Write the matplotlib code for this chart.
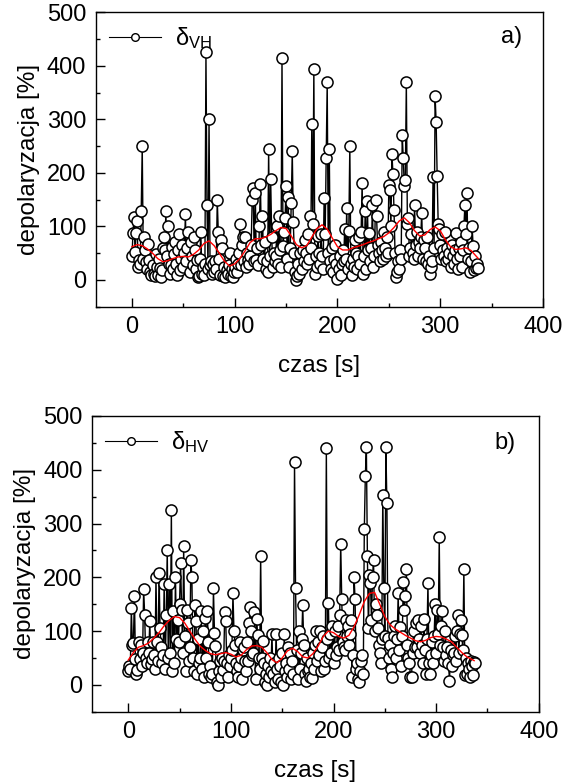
import numpy as np
import matplotlib
matplotlib.use('Agg')
import matplotlib.pyplot as plt
from matplotlib import rcParams
from matplotlib.lines import Line2D
from matplotlib.ticker import MultipleLocator

# Figure text specs
rcParams['font.family'] = ['Liberation Sans', 'DejaVu Sans']
rcParams['mathtext.fontset'] = 'custom'
rcParams['mathtext.rm'] = 'Liberation Sans'
rcParams['mathtext.it'] = 'Liberation Sans:italic'
rcParams['text.color'] = 'black'

# =======================================================================
# ============================ Data =====================================
# =======================================================================

# delta VH, one sample per second
delta_vh = [
    45, 87, 118, 52, 88, 110, 25, 38, 30, 128, 250, 40, 80, 55, 33, 20, 68, 38, 15, 10,
    28, 12, 8, 48, 25, 10, 40, 22, 5, 18, 60, 80, 55, 128, 45, 100, 30, 12, 28, 62,
    20, 48, 70, 30, 10, 55, 85, 18, 40, 65, 25, 50, 123, 35, 60, 90, 15, 70, 45, 28,
    80, 55, 20, 38, 5, 8, 40, 90, 12, 25, 10, 30, 425, 140, 20, 300, 28, 35, 12, 30,
    15, 35, 20, 150, 90, 40, 10, 75, 60, 8, 25, 5, 18, 12, 28, 50, 8, 20, 5, 15,
    25, 40, 15, 30, 50, 104, 28, 65, 80, 35, 80, 25, 50, 38, 30, 45, 65, 150, 172, 35,
    163, 38, 60, 28, 100, 180, 65, 120, 40, 70, 20, 35, 15, 245, 45, 188, 80, 25, 50, 35,
    45, 100, 30, 120, 55, 25, 415, 63, 90, 115, 175, 40, 155, 25, 60, 143, 240, 108, 50, 15,
    0, 8, 30, 12, 50, 20, 55, 35, 75, 50, 30, 85, 40, 120, 60, 292, 105, 395, 12, 45,
    25, 82, 50, 30, 85, 45, 20, 153, 85, 228, 370, 50, 245, 35, 20, 60, 15, 40, 65, 30,
    2, 20, 45, 10, 30, 55, 35, 95, 40, 135, 20, 92, 250, 30, 10, 40, 25, 75, 50, 20,
    45, 80, 30, 90, 182, 12, 45, 128, 20, 148, 55, 88, 35, 60, 140, 25, 45, 150, 120, 65,
    50, 35, 70, 55, 40, 90, 60, 45, 80, 50, 178, 168, 100, 235, 197, 130, 50, 5, 15, 35,
    20, 55, 40, 270, 228, 175, 187, 370, 105, 115, 45, 60, 85, 50, 40, 140, 65, 90, 45, 70,
    60, 80, 125, 40, 75, 60, 35, 80, 30, 45, 12, 25, 35, 193, 60, 343, 295, 194, 105, 95,
    65, 40, 85, 55, 45, 90, 35, 60, 40, 50, 25, 65, 45, 30, 55, 88, 40, 20, 60, 45,
    70, 25, 55, 100, 140, 85, 162, 40, 60, 15, 35, 100, 63, 18, 45, 22, 30, 22]

# Smoothed delta VH (red curve), read every 5 s
smooth_t_vh = [
    0, 5, 10, 15, 20, 25, 30, 35, 40, 45, 50, 55, 60, 65, 70, 75, 80, 85, 90, 95,
    100, 105, 110, 115, 120, 125, 130, 135, 140, 145, 150, 155, 160, 165, 170, 175,
    180, 185, 190, 195, 200, 205, 210, 215, 220, 225, 230, 235, 240, 245, 250, 255,
    260, 265, 270, 275, 280, 285, 290, 295, 300, 305, 310, 315, 320, 325, 330, 337]
smooth_vh = [
    62, 66, 64, 58, 50, 40, 34, 36, 40, 43, 44, 43, 48, 56, 68, 73, 64, 50, 35, 26,
    30, 40, 54, 70, 77, 77, 80, 85, 92, 98, 96, 82, 66, 60, 64, 80,
    96, 103, 95, 78, 62, 56, 56, 60, 63, 66, 70, 73, 77, 81, 88, 98,
    110, 116, 107, 92, 82, 84, 94, 99, 92, 75, 62, 57, 58, 60, 55, 40]

# delta HV, one sample per second
delta_hv = [
    25, 35, 30, 142, 75, 78, 165, 48, 20, 28, 80, 48, 75, 35, 60, 178, 130, 50, 40, 80,
    60, 118, 38, 48, 80, 55, 30, 200, 80, 45, 208, 105, 70, 40, 55, 188, 30, 130, 250, 50,
    188, 60, 325, 25, 137, 40, 200, 85, 120, 80, 150, 226, 140, 60, 258, 90, 25, 140, 115, 45,
    70, 233, 200, 50, 25, 148, 118, 20, 85, 40, 50, 138, 30, 100, 15, 125, 50, 138, 80, 20,
    35, 15, 20, 180, 97, 72, 5, 0, 25, 45, 15, 50, 28, 45, 135, 118, 40, 15, 55, 35,
    50, 65, 170, 100, 75, 40, 25, 15, 35, 80, 50, 10, 65, 70, 45, 25, 80, 45, 115, 145,
    100, 55, 60, 135, 10, 123, 92, 50, 30, 240, 50, 82, 40, 5, 20, 0, 35, 15, 50, 25,
    95, 20, 40, 5, 95, 30, 10, 50, 35, 5, 60, 0, 95, 25, 40, 15, 70, 30, 60, 10,
    45, 20, 415, 180, 65, 10, 100, 30, 60, 85, 148, 75, 20, 8, 50, 25, 30, 15, 40, 12,
    60, 30, 75, 100, 45, 80, 55, 100, 25, 70, 90, 30, 45, 440, 85, 152, 50, 95, 60, 110,
    40, 100, 55, 70, 110, 65, 130, 262, 160, 80, 70, 65, 120, 90, 110, 75, 95, 120, 15, 55,
    200, 160, 30, 40, 10, 5, 25, 45, 55, 20, 290, 388, 443, 240, 105, 205, 190, 120, 200, 233,
    100, 150, 130, 105, 75, 60, 40, 85, 353, 180, 90, 443, 338, 88, 50, 75, 30, 15, 60, 90,
    110, 50, 85, 170, 65, 108, 35, 90, 192, 140, 165, 215, 75, 50, 40, 15, 15, 60, 100, 70,
    115, 70, 120, 85, 60, 110, 75, 40, 123, 65, 20, 85, 190, 40, 20, 55, 80, 40, 90, 150,
    60, 140, 95, 275, 75, 110, 137, 70, 45, 100, 55, 70, 40, 8, 65, 35, 55, 60, 90, 45,
    100, 130, 60, 95, 120, 92, 65, 215, 18, 50, 20, 40, 30, 15, 45, 35, 18, 42, 40]

# Smoothed delta HV (red curve), read every 5 s
smooth_t_hv = smooth_t_vh
smooth_hv = [
    46, 60, 70, 73, 78, 87, 97, 110, 120, 127, 125, 115, 100, 85, 72, 64, 58, 56, 58, 60,
    57, 52, 55, 65, 72, 73, 70, 60, 47, 41, 50, 63, 68, 62, 52, 50,
    58, 72, 90, 100, 97, 90, 87, 92, 108, 130, 155, 170, 172, 150, 127, 112,
    104, 98, 92, 87, 82, 80, 83, 88, 90, 89, 85, 80, 70, 60, 52, 45]

panels = [
    (delta_vh, smooth_t_vh, smooth_vh, r'δ$_{\mathrm{VH}}$', 'a)'),
    (delta_hv, smooth_t_hv, smooth_hv, r'δ$_{\mathrm{HV}}$', 'b)')]

# =======================================================================
# ============================ Figure ===================================
# =======================================================================

fig = plt.figure(figsize=(5.63, 7.84), dpi=100)
axes = [
    fig.add_axes([0.1705, 0.6088, 0.794, 0.3755]),
    fig.add_axes([0.164, 0.0922, 0.793, 0.3772])]
letter_pos = [(0.93, 0.915), (0.924, 0.908)]

for ax, (vals, st, sv, name, letter), lpos in zip(axes, panels, letter_pos):
    czas = np.arange(len(vals))

    # Raw series
    ax.plot(
        czas, vals
        ,color='black'
        ,linewidth=1.0
        ,marker='o'
        ,markersize=8
        ,markerfacecolor='white'
        ,markeredgecolor='black'
        ,markeredgewidth=1.1)

    # Smoothed series
    ax.plot(st, sv, color='red', linewidth=1.0)

    # Legend with smaller marker
    handle = Line2D(
        [], []
        ,color='black'
        ,linewidth=0.8
        ,marker='o'
        ,markersize=5.5
        ,markerfacecolor='white'
        ,markeredgecolor='black')
    ax.legend(
        [handle], [name]
        ,loc='upper left'
        ,frameon=False
        ,fontsize=17
        ,handlelength=2.2
        ,handletextpad=0.6
        ,borderaxespad=0.15)

    ax.text(lpos[0], lpos[1], letter, transform=ax.transAxes
            ,fontsize=17, ha='center', va='center')

    # Axes styling
    ax.set_xlim(-35, 400)
    ax.set_ylim(-50, 500)
    ax.xaxis.set_major_locator(MultipleLocator(100))
    ax.xaxis.set_minor_locator(MultipleLocator(50))
    ax.yaxis.set_major_locator(MultipleLocator(100))
    ax.yaxis.set_minor_locator(MultipleLocator(50))
    ax.tick_params(which='both', direction='in', top=False, right=False
                   ,labelsize=17, width=1.0)
    ax.tick_params(which='major', length=6.5, pad=7)
    ax.tick_params(which='minor', length=3)
    for sp in ax.spines.values():
        sp.set_linewidth(1.0)

    ax.set_xlabel('czas [s]', fontsize=17.5, labelpad=12)
    ax.set_ylabel('depolaryzacja [%]', fontsize=17.5, labelpad=5)

fig.savefig('out.png', dpi=100)
